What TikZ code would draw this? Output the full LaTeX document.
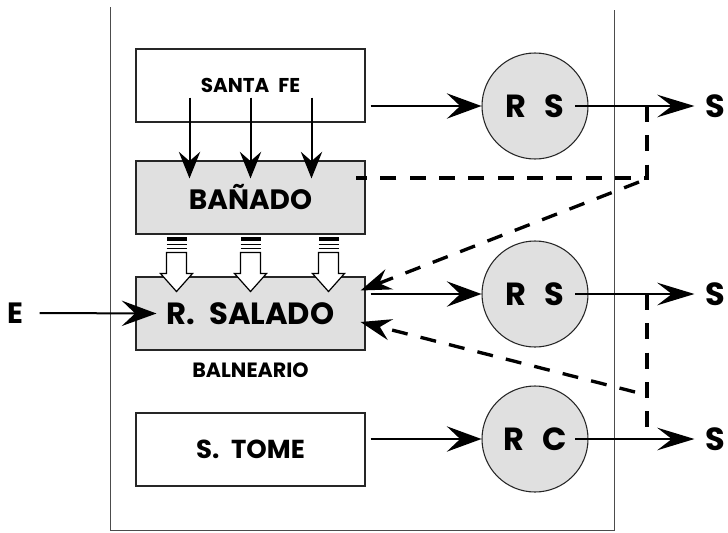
\documentclass[tikz,border=0pt]{standalone}
\usepackage{fontspec}
\setmainfont{Poppins}
\usetikzlibrary{arrows.meta,calc}
\newcommand{\gap}{\hspace{0.45em}}
\begin{document}
\begin{tikzpicture}[x=0.75pt,y=-0.75pt,
  tiph/.tip={Stealth[length=26pt,width=19pt,inset=10pt]},
  tipv/.tip={Stealth[length=20pt,width=16pt,inset=7pt]},
  tipo/.tip={Stealth[length=28pt,width=17pt,inset=11pt]},
  block/.style={draw=black!85,line width=0.8pt,minimum width=171.75pt,minimum height=54.75pt,inner sep=0pt},
  shaded/.style={block,fill=black!12},
  tank/.style={circle,draw=black!85,line width=0.8pt,fill=black!12,minimum size=79.5pt,inner sep=0pt},
  flow/.style={line width=1.5pt,-tiph},
  downflow/.style={line width=1.5pt,-tipv},
  outflow/.style={line width=1.1pt,-tipo},
  dashline/.style={line width=2.5pt,dash pattern=on 12pt off 10pt},
  dasharrow/.style={dashline,-{Stealth[length=23pt,width=16pt,inset=8pt]}},
  hollowarrow/.style={line width=0.9pt,draw=black,fill=white},
  big/.style={font=\bfseries\fontsize{24}{27}\selectfont},
  font=\bfseries]
\useasboundingbox (0,0) rectangle (728,532);

% open frame around the basins
\draw[black!70,line width=0.6pt] (110,7) -- (110,530) -- (614,530) -- (614,10);

% basins
\node[block,font=\bfseries\fontsize{15}{17}\selectfont] (sf) at (250.5,85.5) {SANTA\gap FE};
\node[shaded,font=\bfseries\fontsize{21}{24}\selectfont] (ban) at (250.5,197.5) {BAÑADO};
\node[shaded,font=\bfseries\fontsize{23}{26}\selectfont] (rsal) at (250.5,313.5) {R.\gap SALADO};
\node[font=\bfseries\fontsize{15.5}{17}\selectfont] (bal) at (250.5,370) {BALNEARIO};
\node[block,font=\bfseries\fontsize{19.5}{22}\selectfont] (st) at (250.5,449.5) {S.\gap TOME};

% reservoirs
\node[tank,big] (rs1) at (535,106) {R\hspace{0.55em}S};
\node[tank,big] (rs2) at (535,294) {R\hspace{0.55em}S};
\node[tank,big] (rc) at (535,439) {R\hspace{0.55em}C};

% outlets and inlet
\node[big] (o1) at (715,106) {S};
\node[big] (o2) at (715,294) {S};
\node[big] (o3) at (715,439) {S};
\node[font=\bfseries\fontsize{22}{25}\selectfont] (e) at (15,313) {E};

% inflow from the left
\draw[flow] ($(e.east)+(12,0)$) -- ($(rsal.west)+(21,0)$);

% Santa Fe drains into the bañado
\foreach \dx in {-61,0,61}
  \draw[downflow] ($(sf.south)+(\dx,-25)$) -- ($(ban.north)+(\dx,18)$);

% striped hollow arrows from the bañado into R. Salado
\foreach \cx in {-74,0,78} {
  \fill ($(ban.south)+(\cx-10,2)$) rectangle ($(ban.south)+(\cx+10,6)$);
  \draw[line width=1pt] ($(ban.south)+(\cx-10,10)$) -- ++(20,0);
  \draw[line width=1pt] ($(ban.south)+(\cx-10,14)$) -- ++(20,0);
  \path[hollowarrow] ($(ban.south)+(\cx-10,18)$) -- ++(0,21) -- ++(-6,0)
     -- ($(ban.south)+(\cx,57)$) -- ++(16,-18) -- ++(-6,0) -- ++(0,-21) -- cycle;
}

% basins to reservoirs
\draw[flow] ($(sf.east |- rs1.west)+(5,0)$) -- (rs1.west);
\draw[flow] ($(rsal.east |- rs2.west)+(5,0)$) -- (rs2.west);
\draw[flow] ($(st.east |- rc.west)+(5,0)$) -- (rc.west);

% reservoirs to outlets
\draw[outflow] ($(rs1.center)+(40,0)$) -- ($(o1.west)+(-6,0)$);
\draw[outflow] ($(rs2.center)+(40,0)$) -- ($(o2.west)+(-6,0)$);
\draw[outflow] ($(rc.center)+(40,0)$) -- ($(o3.west)+(-6,0)$);

% return flows (dashed)
\coordinate (t1) at ($(rs1.center)+(112,0)$);
\coordinate (j1) at ($(t1)+(0,72)$);
\coordinate (t2) at ($(rs2.center)+(112,0)$);
\coordinate (t3) at ($(rc.center)+(112,0)$);
\draw[dashline] (t1) -- (j1) -- ($(ban.east |- j1)+(-10,0)$);
\draw[dasharrow] ($(j1)+(-8,4)$) -- ($(rsal.east)+(-5,-23)$);
\draw[dashline] (t2) -- (t3);
\draw[dasharrow] ($(t2)+(-12,98)$) -- ($(rsal.east)+(-5,8.5)$);
\end{tikzpicture}
\end{document}
